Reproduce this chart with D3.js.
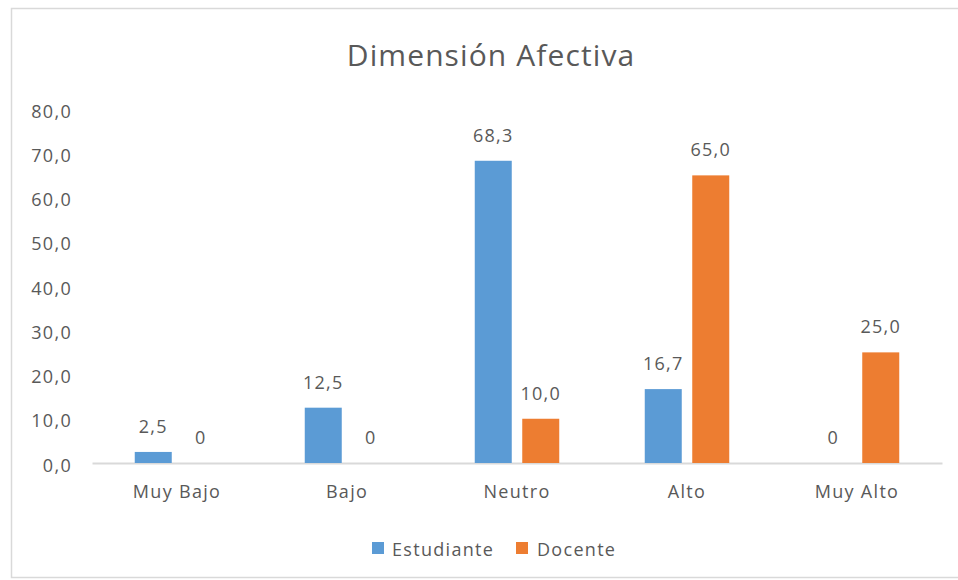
<!DOCTYPE html>
<html>
<head>
<meta charset="utf-8">
<script src="https://cdn.jsdelivr.net/npm/d3@7"></script>
<style>
  html, body { margin: 0; padding: 0; background: #fff; }
  svg { display: block; }
  text { font-family: "Open Sans", "DejaVu Sans", sans-serif; fill: #595959; }
</style>
</head>
<body>
<svg id="chart" width="958" height="580"></svg>
<script>
// Dimensión Afectiva — porcentaje por nivel
const categories = ["Muy Bajo", "Bajo", "Neutro", "Alto", "Muy Alto"];
const seriesNames = ["Estudiante", "Docente"];
const estudiante = [2.5, 12.5, 68.3, 16.7, 0];
const docente = [0, 0, 10.0, 65.0, 25.0];
const yTicks = [0, 10, 20, 30, 40, 50, 60, 70, 80];
const colors = ["#5B9BD5", "#ED7D31"];

const svg = d3.select("#chart");
const W = 958, H = 580;
const labelFont = { size: "18px", spacing: "1.3px" };

// outer frame
svg.append("rect")
  .attr("x", 11.5).attr("y", 8.5)
  .attr("width", W + 10).attr("height", H - 11)
  .attr("fill", "#fff").attr("stroke", "#d9d9d9").attr("stroke-width", 1.5);

const plot = { left: 92, right: 942, top: 109, bottom: 463 };

const x = d3.scaleBand().domain(categories).range([plot.left, plot.right]);
const y = d3.scaleLinear().domain([0, 80]).range([plot.bottom, plot.top]);

const barW = 37, innerGap = 10.5;
const fmt = v => v === 0 ? "0" : d3.format(".1f")(v).replace(".", ",");

function styleLabel(sel) {
  sel.style("font-size", labelFont.size)
    .style("letter-spacing", labelFont.spacing)
    .style("font-family", '"Open Sans", sans-serif')
    .attr("fill", "#595959");
}

// title
svg.append("text")
  .attr("x", 491).attr("y", 66)
  .attr("text-anchor", "middle")
  .style("font-size", "30px")
  .style("letter-spacing", "1.1px")
  .text("Dimensión Afectiva");

// y axis labels
const yAxis = d3.axisLeft(y).tickValues(yTicks).tickSize(0).tickPadding(0)
  .tickFormat(d => d3.format(".1f")(d).replace(".", ","));
const gy = svg.append("g").attr("transform", `translate(72,0)`).call(yAxis);
gy.select(".domain").remove();
gy.selectAll("text").call(styleLabel).attr("dy", null).attr("y", 8);

// category axis
const xAxis = d3.axisBottom(x).tickSize(0).tickPadding(0);
const gx = svg.append("g").attr("transform", `translate(0,${plot.bottom})`).call(xAxis);
gx.select(".domain").attr("stroke", "#d9d9d9").attr("stroke-width", 2);
gx.selectAll("text").call(styleLabel).attr("dy", null).attr("y", 35);

// bars and value labels
const series = [estudiante, docente];
series.forEach((vals, si) => {
  const offset = si === 0 ? -innerGap / 2 - barW : innerGap / 2;
  const g = svg.append("g");
  g.selectAll("rect").data(vals).join("rect")
    .attr("x", (d, i) => x(categories[i]) + x.bandwidth() / 2 + offset)
    .attr("y", d => y(d))
    .attr("width", barW)
    .attr("height", d => y(0) - y(d))
    .attr("fill", colors[si]);
  g.selectAll("text").data(vals).join("text")
    .attr("x", (d, i) => x(categories[i]) + x.bandwidth() / 2 + offset + barW / 2)
    .attr("y", d => y(d) - 19)
    .attr("text-anchor", "middle")
    .call(styleLabel)
    .text(fmt);
});

// legend
const legend = svg.append("g");
const legendItems = [{ x: 372, tx: 392 }, { x: 516, tx: 537 }];
seriesNames.forEach((name, i) => {
  legend.append("rect")
    .attr("x", legendItems[i].x).attr("y", 542)
    .attr("width", 12).attr("height", 12)
    .attr("fill", colors[i]);
  legend.append("text")
    .attr("x", legendItems[i].tx).attr("y", 556)
    .call(styleLabel)
    .text(name);
});
</script>
</body>
</html>
